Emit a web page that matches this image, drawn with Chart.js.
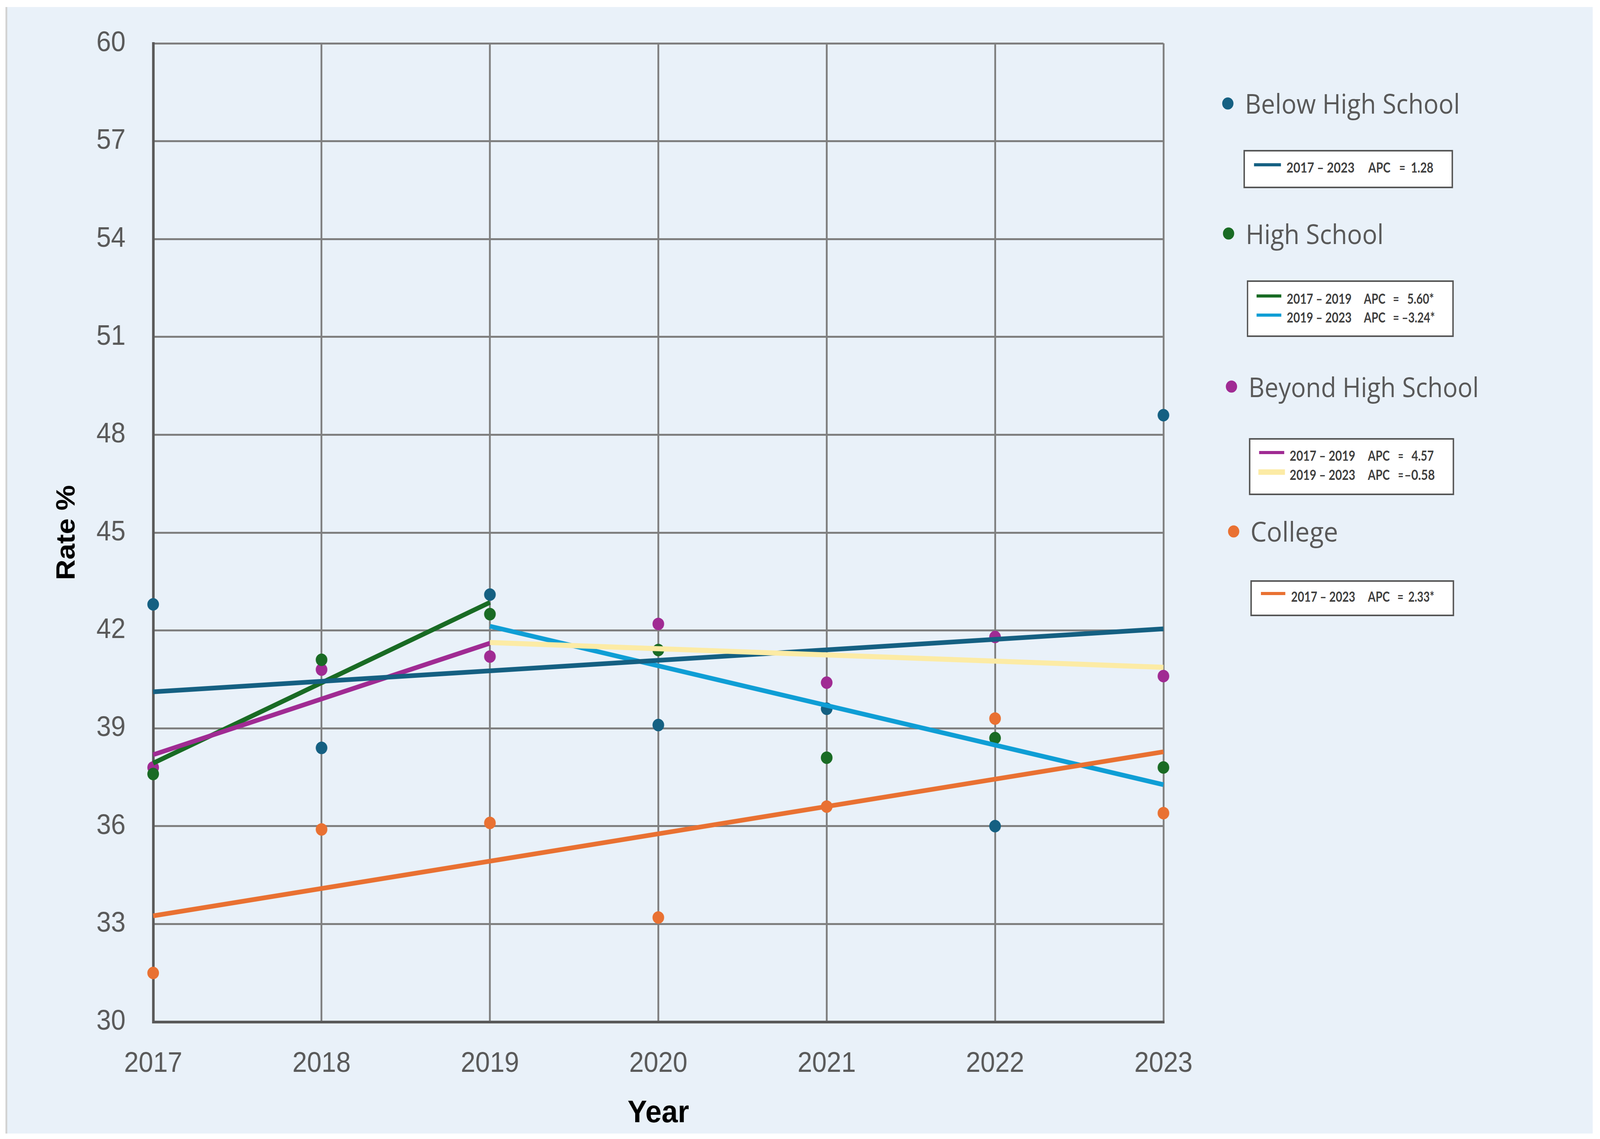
<!DOCTYPE html>
<html><head><meta charset="utf-8">
<script src="https://cdn.jsdelivr.net/npm/chart.js@4.4.1/dist/chart.umd.min.js"></script>
<style>
html,body{margin:0;padding:0;background:#fff;overflow:hidden}
#root{position:absolute;left:0;top:0;width:4398px;height:2917px;transform-origin:0 0}
#bg{position:absolute;left:15px;top:18px;width:4363px;height:2885px;background:#E9F1F9;border-left:5px solid #D2D2D2;box-sizing:border-box}
#c{position:absolute;left:0;top:0}
.lt{position:absolute;font-family:'Open Sans',sans-serif;font-size:70px;color:#595959;line-height:1;white-space:nowrap}
.dot{position:absolute;width:31px;height:31px;border-radius:50%;transform:translate(-50%,-50%)}
.box{position:absolute;background:#fff;border:4px solid #555;box-sizing:border-box}
.smp{position:absolute;transform:translateY(-50%)}
.bt{position:absolute;font-family:'Lato',sans-serif;font-weight:bold;font-size:36px;color:#404040;white-space:pre;line-height:1}
</style></head>
<body>
<div id="root">
<div id="bg"></div>
<canvas id="c" width="4398" height="2917"></canvas>

<div class="box" style="left:3418px;top:384px;width:576px;height:98px"></div>
<div class="box" style="left:3427px;top:718px;width:569px;height:145px"></div>
<div class="box" style="left:3433px;top:1122px;width:564px;height:146px"></div>
<div class="box" style="left:3437px;top:1486px;width:560px;height:92px"></div>

<div class="dot" style="left:3375px;top:265px;background:#156082"></div>
<div class="lt fit" data-w="591" style="left:3422px;top:264px">Below High School</div>
<div class="smp" style="left:3447px;top:422px;width:74px;height:8px;background:#156082"></div>
<div class="bt fit" data-w="187" style="left:3536px;top:428px">2017 – 2023</div>
<div class="bt fit" data-w="61" style="left:3761px;top:428px">APC</div>
<div class="bt fit" data-w="17" style="left:3846px;top:428px">=</div>
<div class="bt fit" data-w="62" style="left:3878px;top:428px">1.28</div>

<div class="dot" style="left:3377px;top:598px;background:#196B24"></div>
<div class="lt fit" data-w="379" style="left:3424px;top:598px">High School</div>
<div class="smp" style="left:3454px;top:758px;width:68px;height:8px;background:#196B24"></div>
<div class="bt fit" data-w="178" style="left:3537px;top:764px">2017 – 2019</div>
<div class="bt fit" data-w="59" style="left:3749px;top:764px">APC</div>
<div class="bt fit" data-w="17" style="left:3829px;top:764px">=</div>
<div class="bt fit" data-w="74" style="left:3868px;top:764px">5.60*</div>
<div class="smp" style="left:3454px;top:807px;width:68px;height:8px;background:#0F9ED5"></div>
<div class="bt fit" data-w="178" style="left:3537px;top:812px">2019 – 2023</div>
<div class="bt fit" data-w="59" style="left:3749px;top:812px">APC</div>
<div class="bt fit" data-w="17" style="left:3829px;top:812px">=</div>
<div class="bt fit" data-w="91" style="left:3853px;top:812px">–3.24*</div>

<div class="dot" style="left:3385px;top:990px;background:#A02B93"></div>
<div class="lt fit" data-w="633" style="left:3432px;top:990px">Beyond High School</div>
<div class="smp" style="left:3461px;top:1159px;width:69px;height:8px;background:#A02B93"></div>
<div class="bt fit" data-w="180" style="left:3545px;top:1166px">2017 – 2019</div>
<div class="bt fit" data-w="60" style="left:3760px;top:1166px">APC</div>
<div class="bt fit" data-w="15" style="left:3843px;top:1166px">=</div>
<div class="bt fit" data-w="61" style="left:3880px;top:1166px">4.57</div>
<div class="smp" style="left:3459px;top:1209px;width:73px;height:14px;background:#FCEBA5"></div>
<div class="bt fit" data-w="180" style="left:3545px;top:1215px">2019 – 2023</div>
<div class="bt fit" data-w="60" style="left:3760px;top:1215px">APC</div>
<div class="bt fit" data-w="15" style="left:3843px;top:1215px">=</div>
<div class="bt fit" data-w="84" style="left:3860px;top:1215px">–0.58</div>

<div class="dot" style="left:3391px;top:1361px;background:#E97132"></div>
<div class="lt fit" data-w="241" style="left:3437px;top:1360px">College</div>
<div class="smp" style="left:3466px;top:1520px;width:67px;height:8px;background:#E97132"></div>
<div class="bt fit" data-w="176" style="left:3549px;top:1527px">2017 – 2023</div>
<div class="bt fit" data-w="60" style="left:3760px;top:1527px">APC</div>
<div class="bt fit" data-w="17" style="left:3841px;top:1527px">=</div>
<div class="bt fit" data-w="72" style="left:3871px;top:1527px">2.33*</div>
</div>

<script>
const years = ['2017','2018','2019','2020','2021','2022','2023'];
const belowHS    = [42.8, 38.4, 43.1, 39.1, 39.6, 36.0, 48.6];
const highSchool = [37.6, 41.1, 42.5, 41.4, 38.1, 38.7, 37.8];
const beyondHS   = [37.8, 40.8, 41.2, 42.2, 40.4, 41.8, 40.6];
const college    = [31.5, 35.9, 36.1, 33.2, 36.6, 39.3, 36.4];

const belowTrend   = [40.12, null, null, null, null, null, 42.05];
const hsTrend1     = [37.93, null, 42.86, null, null, null, null];
const hsTrend2     = [null, null, 42.13, null, null, null, 37.27];
const beyondTrend1 = [38.19, null, 41.61, null, null, null, null];
const beyondTrend2 = [null, null, 41.63, null, null, null, 40.87];
const collegeTrend = [33.25, null, null, null, null, null, 38.28];

// fit page (designed at 4398 px wide) to the actual viewport width
const sx = (window.innerWidth || 4398) / 4398;
document.getElementById('root').style.transform = 'scale(' + sx + ',1)';

document.querySelectorAll('.fit').forEach(el => {
  const w = el.offsetWidth;
  const k = (+el.dataset.w) / w;
  el.style.transformOrigin = '0 50%';
  el.style.transform = 'translateY(-50%) scaleX(' + k + ')';
});

const C = {below:'#156082', hs:'#196B24', hs2:'#0F9ED5', beyond:'#A02B93', beyond2:'#FCEBA5', college:'#E97132'};

function pts(label, data, color){
  return {label, data, showLine:false, pointRadius:16, pointHoverRadius:16,
    pointBackgroundColor:color, pointBorderWidth:0, borderColor:color, order:2, clip:false};
}
function trend(label, data, color, w){
  return {label, data, borderColor:color, borderWidth:w||12, pointRadius:0, pointHoverRadius:0,
    spanGaps:true, fill:false, tension:0, order:1, clip:false, borderCapStyle:'butt'};
}

new Chart(document.getElementById('c'), {
  type:'line',
  data:{labels:years, datasets:[
    pts('Below High School', belowHS, C.below),
    pts('High School', highSchool, C.hs),
    pts('Beyond High School', beyondHS, C.beyond),
    pts('College', college, C.college),
    trend('Beyond 2019–2023', beyondTrend2, C.beyond2, 13),
    trend('College 2017–2023', collegeTrend, C.college),
    trend('Below 2017–2023', belowTrend, C.below),
    trend('Beyond 2017–2019', beyondTrend1, C.beyond),
    trend('HS 2017–2019', hsTrend1, C.hs),
    trend('HS 2019–2023', hsTrend2, C.hs2)
  ]},
  options:{
    responsive:false, animation:false, devicePixelRatio:1,
    layout:{padding:{top:111, right:1200, bottom:0, left:0}},
    plugins:{legend:{display:false}, tooltip:{enabled:false}},
    scales:{
      x:{type:'category', offset:false,
        grid:{color:'#7F7F7F', lineWidth:5, drawTicks:false},
        border:{display:true, color:'#595959', width:7},
        ticks:{color:'#595959', font:{family:'Liberation Sans', size:72}, padding:65, autoSkip:false, maxRotation:0},
        title:{display:true, text:'Year', color:'#000', font:{family:'Liberation Sans', size:80, weight:'bold'}, padding:{top:0, bottom:17}},
        afterFit(s){ s.height=300; s.paddingLeft=0; s.paddingRight=0; }
      },
      y:{min:30, max:60,
        grid:{color:'#7F7F7F', lineWidth:5, drawTicks:false},
        border:{display:true, color:'#595959', width:7},
        ticks:{stepSize:3, color:'#595959', font:{family:'Liberation Sans', size:72}, padding:76},
        title:{display:true, text:'Rate %', color:'#000', font:{family:'Liberation Sans', size:73, weight:'bold'}, padding:{top:141, bottom:0}},
        afterFit(s){ s.width=421; s.paddingTop=0; s.paddingBottom=0; }
      }
    }
  }
});
</script>
</body></html>
